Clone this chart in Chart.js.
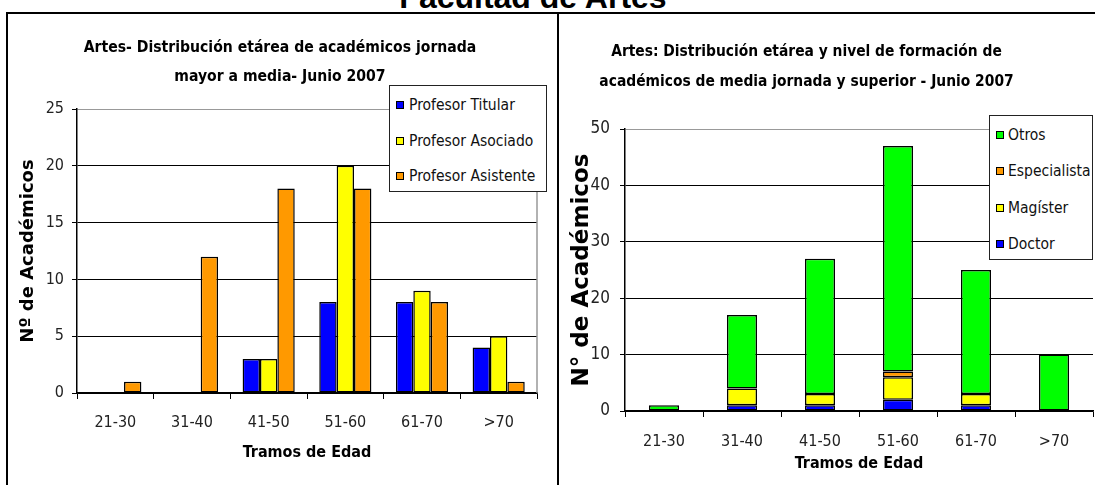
<!DOCTYPE html>
<html>
<head>
<meta charset="utf-8">
<script src="https://cdn.jsdelivr.net/npm/chart.js@4.4.0/dist/chart.umd.min.js"></script>
<style>
body { margin:0; width:1095px; height:485px; overflow:hidden; background:#fff; position:relative; }
#pageTitle { position:absolute; left:0; width:1066px; top:-19px; text-align:center; font:bold 32px/32px "Liberation Sans", Arial, sans-serif; color:#000; }
#frame { position:absolute; left:6px; top:12px; width:1100px; height:480px; border-top:2px solid #000; border-left:2px solid #000; }
#divider { position:absolute; left:557px; top:12px; width:2px; height:480px; background:#000; }
.wrap { position:absolute; }
.legend { position:absolute; background:#fff; border:1.5px solid #222; box-sizing:border-box; font-family:"Liberation Sans Narrow", "Arial Narrow", "DejaVu Sans Condensed", sans-serif; font-size:15.5px; color:#111; }
.legend .item { position:absolute; height:20px; line-height:20px; white-space:nowrap; }
.legend .sw { position:absolute; top:6px; width:6px; height:6px; border:1px solid #000; }
</style>
</head>
<body>
<div id="pageTitle">Facultad de Artes</div>
<div id="frame"></div>
<div id="divider"></div>
<div class="wrap" style="left:8px; top:13px; width:549px; height:472px;"><canvas id="left"></canvas></div>
<div class="wrap" style="left:520px; top:13px; width:575px; height:472px;"><canvas id="right"></canvas></div>
<div class="legend" id="legLeft" style="left:389px; top:85px; width:158px; height:107px;"></div>
<div class="legend" id="legRight" style="left:989px; top:115px; width:104px; height:145px;"></div>
<script>
var NARROW = '"Liberation Sans Narrow", "Arial Narrow", "DejaVu Sans Condensed", sans-serif';
var WIDE = '"DejaVu Sans", Verdana, sans-serif';

var categories = ["21-30", "31-40", "41-50", "51-60", "61-70", ">70"];

// izquierda: jornada mayor a media
var titular = [0, 0, 3, 8, 8, 4];
var asociado = [0, 0, 3, 20, 9, 5];
var asistente = [1, 12, 18, 18, 8, 1];
var leftTicks = [0, 5, 10, 15, 20, 25];

// derecha: nivel de formacion (apilado)
var doctor = [0, 1, 1, 2, 1, 0];
var magister = [0, 3, 2, 4, 2, 0];
var especialista = [0, 0, 0, 1, 0, 0];
var otros = [1, 13, 24, 40, 22, 10];
var rightTicks = [0, 10, 20, 30, 40, 50];

var BLUE = '#0000FF', YELLOW = '#FFFF00', ORANGE = '#FF9900', GREEN = '#00FF00';

Chart.defaults.devicePixelRatio = 1;
Chart.defaults.animation = false;

var plotEdge = {
    id: 'plotEdge',
    beforeDatasetsDraw: function (chart) {
        var a = chart.chartArea, c = chart.ctx;
        c.save();
        c.strokeStyle = '#999';
        c.lineWidth = 1.5;
        c.beginPath();
        c.moveTo(a.right, a.top);
        c.lineTo(a.right, a.bottom);
        c.stroke();
        c.restore();
    }
};

function useTicks(list) {
    return function (s) { s.ticks = list.map(function (v) { return { value: v }; }); };
}

var leftChart = new Chart(document.getElementById('left'), {
    type: 'bar',
    data: {
        labels: categories,
        datasets: [
            { label: 'Profesor Titular', data: titular, backgroundColor: BLUE },
            { label: 'Profesor Asociado', data: asociado, backgroundColor: YELLOW },
            { label: 'Profesor Asistente', data: asistente, backgroundColor: ORANGE }
        ]
    },
    options: {
        responsive: true,
        maintainAspectRatio: false,
        // el titulo queda centrado entre 23 y 537 (pagina)
        layout: { padding: { left: 15, right: 20, top: 0, bottom: 0 } },
        datasets: { bar: { borderColor: '#000', borderWidth: 1.5, borderSkipped: false, categoryPercentage: 0.68, barPercentage: 1 } },
        plugins: {
            legend: { display: false },
            tooltip: { enabled: false },
            title: {
                display: true,
                text: ['Artes- Distribución etárea de académicos jornada', 'mayor a media- Junio 2007'],
                color: '#000',
                font: { family: NARROW, size: 15.6, weight: 'bold', lineHeight: 29 / 15.6 },
                padding: { top: 20.5, bottom: 17.5 }
            }
        },
        scales: {
            x: {
                grid: { drawOnChartArea: false, tickLength: 6, color: '#000' },
                border: { color: '#000', width: 1.5 },
                ticks: { font: { family: NARROW, size: 16 }, color: '#222', padding: 14, maxRotation: 0 },
                title: { display: true, text: 'Tramos de Edad', color: '#000', font: { family: NARROW, size: 16, weight: 'bold' }, padding: { top: 0, bottom: 23 } },
                afterFit: function (s) { s.height = 92; }
            },
            y: {
                min: 0, max: 25,
                afterBuildTicks: useTicks(leftTicks),
                grid: { color: function (c) { return c.tick && c.tick.value === 25 ? '#999' : '#000'; }, tickColor: '#000', tickLength: 5 },
                border: { color: '#000', width: 1.5 },
                ticks: { font: { family: NARROW, size: 16 }, color: '#222', padding: 8 },
                title: { display: true, text: 'Nº de Académicos', color: '#000', font: { family: WIDE, size: 18, weight: 'bold', lineHeight: 0.5 }, padding: { top: 0.5, bottom: 0 } },
                afterFit: function (s) { s.width = 54; }
            }
        }
    },
    plugins: [plotEdge]
});

var rightChart = new Chart(document.getElementById('right'), {
    type: 'bar',
    data: {
        labels: categories,
        datasets: [
            { label: 'Doctor', data: doctor, backgroundColor: BLUE },
            { label: 'Magíster', data: magister, backgroundColor: YELLOW },
            { label: 'Especialista', data: especialista, backgroundColor: ORANGE },
            { label: 'Otros', data: otros, backgroundColor: GREEN }
        ]
    },
    options: {
        responsive: true,
        maintainAspectRatio: false,
        layout: { padding: { left: 0, right: 2, top: 0, bottom: 0 } },
        datasets: { bar: { borderColor: '#000', borderWidth: 1.5, borderSkipped: false, categoryPercentage: 1, barPercentage: 0.385 } },
        plugins: {
            legend: { display: false },
            tooltip: { enabled: false },
            title: {
                display: true,
                text: ['Artes: Distribución etárea y nivel de formación de', 'académicos de media jornada y superior - Junio 2007'],
                color: '#000',
                font: { family: NARROW, size: 15.4, weight: 'bold', lineHeight: 30 / 15.4 },
                padding: { top: 24, bottom: 32 }
            }
        },
        scales: {
            x: {
                stacked: true,
                grid: { drawOnChartArea: false, tickLength: 6, color: '#000' },
                border: { color: '#000', width: 1.5 },
                ticks: { font: { family: NARROW, size: 16 }, color: '#222', padding: 15, maxRotation: 0 },
                title: { display: true, text: 'Tramos de Edad', color: '#000', font: { family: NARROW, size: 16, weight: 'bold' }, padding: { top: 0, bottom: 12 } },
                afterFit: function (s) { s.height = 74; }
            },
            y: {
                stacked: true,
                min: 0, max: 50,
                afterBuildTicks: useTicks(rightTicks),
                grid: { color: function (c) { return c.tick && c.tick.value === 50 ? '#999' : '#000'; }, tickColor: '#000', tickLength: 5 },
                border: { color: '#000', width: 1.5 },
                ticks: { font: { family: NARROW, size: 17 }, color: '#222', padding: 10 },
                title: { display: true, text: 'N° de Académicos', color: '#000', font: { family: WIDE, size: 23, weight: 'bold', lineHeight: 1.2 }, padding: { top: 48, bottom: 0 } },
                afterFit: function (s) { s.width = 105; }
            }
        }
    }
});

// leyendas dentro del area de trazado, como en el original
function buildLegend(el, chart, rows, gap, first, swLeft, textLeft) {
    rows.forEach(function (idx, i) {
        var ds = chart.data.datasets[idx];
        var item = document.createElement('div');
        item.className = 'item';
        item.style.top = (first + i * gap - 10) + 'px';
        item.style.left = '0px';
        var sw = document.createElement('span');
        sw.className = 'sw';
        sw.style.left = swLeft + 'px';
        sw.style.background = ds.backgroundColor;
        var tx = document.createElement('span');
        tx.style.position = 'absolute';
        tx.style.left = textLeft + 'px';
        tx.textContent = ds.label;
        item.appendChild(sw);
        item.appendChild(tx);
        el.appendChild(item);
    });
}
buildLegend(document.getElementById('legLeft'), leftChart, [0, 1, 2], 35.5, 19, 6, 19);
buildLegend(document.getElementById('legRight'), rightChart, [3, 2, 1, 0], 36.3, 19, 6, 18);
</script>
</body>
</html>
